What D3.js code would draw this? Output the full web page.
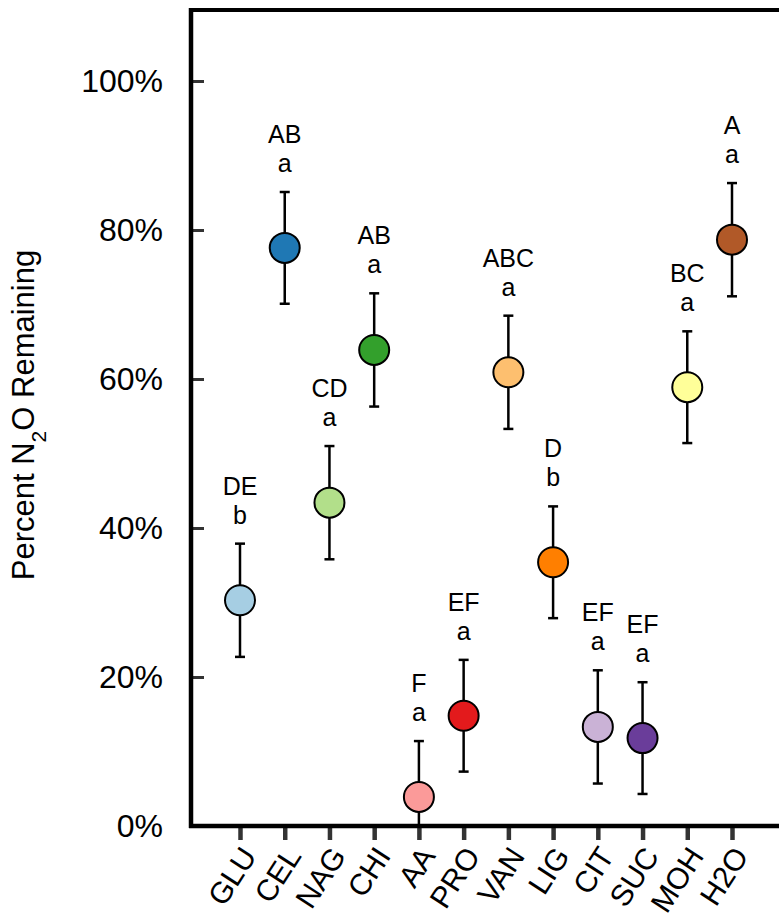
<!DOCTYPE html>
<html>
<head>
<meta charset="utf-8">
<script src="https://cdn.jsdelivr.net/npm/d3@7"></script>
<style>
  html, body { margin: 0; padding: 0; background: #fff; }
  svg { display: block; font-family: "Liberation Sans", Arial, sans-serif; }
</style>
</head>
<body>
<svg id="chart" width="779" height="921"></svg>
<script>
// Substrate treatments and percent N2O remaining (mean, ± error)
const categories = ["GLU", "CEL", "NAG", "CHI", "AA", "PRO", "VAN", "LIG", "CIT", "SUC", "MOH", "H2O"];
const means      = [30.3, 77.6, 43.4, 63.9, 3.9, 14.8, 60.9, 35.4, 13.3, 11.8, 58.9, 78.7];
const errors     = [7.6, 7.5, 7.6, 7.6, 7.5, 7.5, 7.6, 7.5, 7.6, 7.5, 7.5, 7.6];
const groupUpper = ["DE", "AB", "CD", "AB", "F", "EF", "ABC", "D", "EF", "EF", "BC", "A"];
const groupLower = ["b", "a", "a", "a", "a", "a", "a", "b", "a", "a", "a", "a"];
const yTicks     = [0, 20, 40, 60, 80, 100];
const colors     = ["#a6cee3", "#1f78b4", "#b2df8a", "#33a02c", "#fb9a99", "#e31a1c",
                    "#fdbf6f", "#ff7f00", "#cab2d6", "#6a3d9a", "#ffff99", "#b15928"];

const data = categories.map((c, i) => ({
  cat: c, mean: means[i], err: errors[i], up: groupUpper[i], low: groupLower[i], color: colors[i]
}));

const svg = d3.select("#chart");
const plotLeft = 191, plotTop = 10, plotBottom = 826, plotRight = 779;

const y = d3.scaleLinear().domain([0, 100]).range([plotBottom, 81]);
const x = d3.scalePoint().domain(categories).range([240, 732]);

// Frame: top border
svg.append("line")
  .attr("x1", plotLeft).attr("x2", plotRight).attr("y1", plotTop).attr("y2", plotTop)
  .attr("stroke", "#000").attr("stroke-width", 4);

// Y axis with inward ticks
const yAxis = svg.append("g").attr("transform", `translate(${plotLeft},0)`)
  .call(d3.axisLeft(y).tickValues(yTicks).tickFormat(d => d + "%").tickSize(0).tickPadding(28));
yAxis.select(".domain").remove();
yAxis.selectAll("text").attr("font-size", 32).attr("fill", "#000")
  .attr("font-family", "Liberation Sans, Arial, sans-serif");
yAxis.selectAll(".tick").append("line")
  .attr("x1", 0).attr("x2", 13).attr("stroke", "#333").attr("stroke-width", 3);

svg.append("line")
  .attr("x1", plotLeft).attr("x2", plotLeft).attr("y1", plotTop - 2).attr("y2", plotBottom + 2)
  .attr("stroke", "#000").attr("stroke-width", 4.5);

// X axis with outward ticks and rotated labels
const xAxis = svg.append("g").attr("transform", `translate(0,${plotBottom})`)
  .call(d3.axisBottom(x).tickSize(0).tickPadding(0));
xAxis.select(".domain").remove();
xAxis.selectAll(".tick line").remove();
xAxis.selectAll(".tick").append("line")
  .attr("y1", 0).attr("y2", 14).attr("stroke", "#333").attr("stroke-width", 4.5);
xAxis.selectAll("text")
  .attr("font-size", 30).attr("fill", "#000")
  .attr("font-family", "Liberation Sans, Arial, sans-serif")
  .attr("text-anchor", "end")
  .attr("dy", 0)
  .attr("y", 0)
  .attr("transform", "translate(17,30) rotate(-57)");

svg.append("line")
  .attr("x1", plotLeft - 2).attr("x2", plotRight).attr("y1", plotBottom).attr("y2", plotBottom)
  .attr("stroke", "#000").attr("stroke-width", 4.5);

// Error bars (clipped at 0%)
const eb = svg.append("g").selectAll("g").data(data).join("g");
const capW = 5;
eb.append("line")
  .attr("x1", d => x(d.cat)).attr("x2", d => x(d.cat))
  .attr("y1", d => y(Math.max(0, d.mean - d.err))).attr("y2", d => y(d.mean + d.err))
  .attr("stroke", "#000").attr("stroke-width", 2.5);
eb.append("line")
  .attr("x1", d => x(d.cat) - capW).attr("x2", d => x(d.cat) + capW)
  .attr("y1", d => y(d.mean + d.err)).attr("y2", d => y(d.mean + d.err))
  .attr("stroke", "#000").attr("stroke-width", 2.5);
eb.filter(d => d.mean - d.err > 0).append("line")
  .attr("x1", d => x(d.cat) - capW).attr("x2", d => x(d.cat) + capW)
  .attr("y1", d => y(d.mean - d.err)).attr("y2", d => y(d.mean - d.err))
  .attr("stroke", "#000").attr("stroke-width", 2.5);

// Points
svg.append("g").selectAll("circle").data(data).join("circle")
  .attr("cx", d => x(d.cat)).attr("cy", d => y(d.mean)).attr("r", 15)
  .attr("fill", d => d.color).attr("stroke", "#000").attr("stroke-width", 2);

// Significance letters
const lab = svg.append("g").attr("font-size", 25).attr("text-anchor", "middle").attr("fill", "#000");
lab.selectAll("text.up").data(data).join("text").attr("class", "up")
  .attr("x", d => x(d.cat)).attr("y", d => y(d.mean + d.err) - 49).text(d => d.up);
lab.selectAll("text.low").data(data).join("text").attr("class", "low")
  .attr("x", d => x(d.cat)).attr("y", d => y(d.mean + d.err) - 20).text(d => d.low);

// Y axis title with subscript
const yt = svg.append("text")
  .attr("transform", `translate(34,415) rotate(-90)`)
  .attr("text-anchor", "middle").attr("font-size", 31).attr("fill", "#000");
yt.append("tspan").text("Percent N");
yt.append("tspan").attr("baseline-shift", "sub").attr("font-size", 21).text("2");
yt.append("tspan").text("O Remaining");
</script>
</body>
</html>
